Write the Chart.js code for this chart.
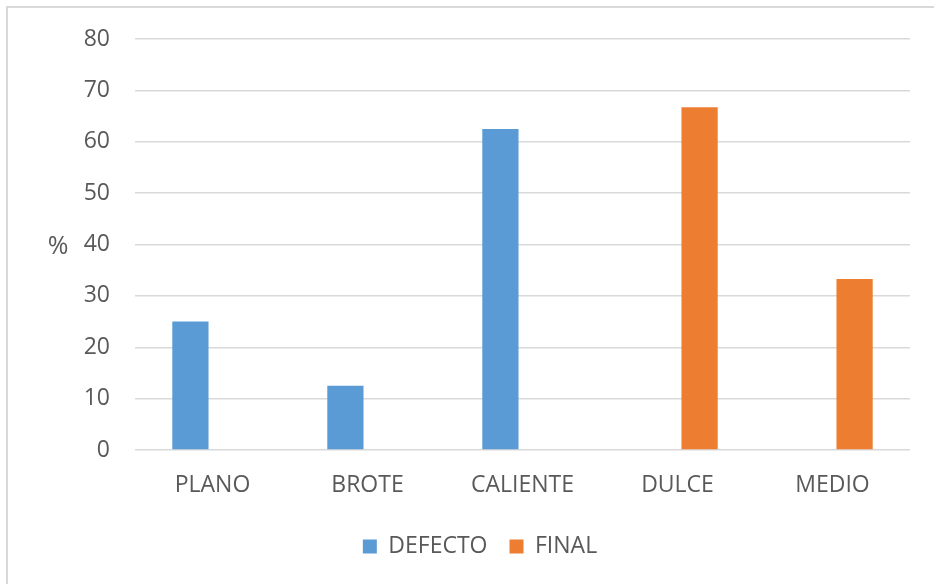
<!DOCTYPE html>
<html lang="es">
<head>
  <meta charset="UTF-8">
  <title>Defecto y final</title>
  <script src="https://cdn.jsdelivr.net/npm/chart.js"></script>
  <style>
    body {
      margin: 0;
      background: #fff;
      font-family: "Open Sans", Arial, sans-serif;
      overflow: hidden;
    }
    .marco {
      position: absolute;
      left: 6px;
      top: 6px;
      width: 1000px;
      height: 700px;
      border: 2px solid #d9d9d9;
    }
    #grafico {
      position: absolute;
      left: 0;
      top: 0;
    }
  </style>
</head>
<body>
  <div class="marco"></div>
  <canvas id="grafico" width="934" height="584"></canvas>

  <script>
    const categorias = ["PLANO", "BROTE", "CALIENTE", "DULCE", "MEDIO"];
    const defecto = [25, 12.5, 62.5, null, null];
    const final = [null, null, null, 66.7, 33.3];
    const ticksY = [0, 10, 20, 30, 40, 50, 60, 70, 80];

    const gris = "#595959";
    const fuente = { family: "'Open Sans', Arial, sans-serif", size: 23 };

    // "%" horizontal a la izquierda del eje
    const tituloY = {
      id: "tituloY",
      afterDraw(chart) {
        const ctx = chart.ctx;
        const area = chart.chartArea;
        ctx.save();
        ctx.font = "25px 'Open Sans', Arial, sans-serif";
        ctx.fillStyle = gris;
        ctx.textAlign = "center";
        ctx.textBaseline = "middle";
        ctx.fillText("%", 58, (area.top + area.bottom) / 2 + 2);
        ctx.restore();
      }
    };

    const ctx = document.getElementById("grafico").getContext("2d");
    new Chart(ctx, {
      type: "bar",
      data: {
        labels: categorias,
        datasets: [
          { label: "DEFECTO", data: defecto, backgroundColor: "#5b9bd5" },
          { label: "FINAL", data: final, backgroundColor: "#ed7d31" }
        ]
      },
      options: {
        responsive: false,
        animation: false,
        layout: { padding: { left: 50, right: 24, top: 39, bottom: 16 } },
        datasets: {
          bar: { categoryPercentage: 0.57, barPercentage: 0.82 }
        },
        scales: {
          x: {
            grid: { display: false, drawTicks: false },
            border: { display: false },
            ticks: { color: gris, font: fuente, padding: 22, maxRotation: 0 },
            afterFit(scale) { scale.height = 63; }
          },
          y: {
            min: 0,
            max: 80,
            afterBuildTicks(scale) {
              scale.ticks = ticksY.map(v => ({ value: v }));
            },
            grid: { color: "#d9d9d9", lineWidth: 1.5, drawTicks: false },
            border: { display: false },
            ticks: { color: gris, font: fuente, padding: 25 },
            afterFit(scale) { scale.width = 85; }
          }
        },
        plugins: {
          legend: {
            position: "bottom",
            labels: {
              color: gris,
              font: fuente,
              boxWidth: 14,
              boxHeight: 14,
              padding: 22
            }
          },
          tooltip: { enabled: false }
        }
      },
      plugins: [tituloY]
    });
  </script>
</body>
</html>
